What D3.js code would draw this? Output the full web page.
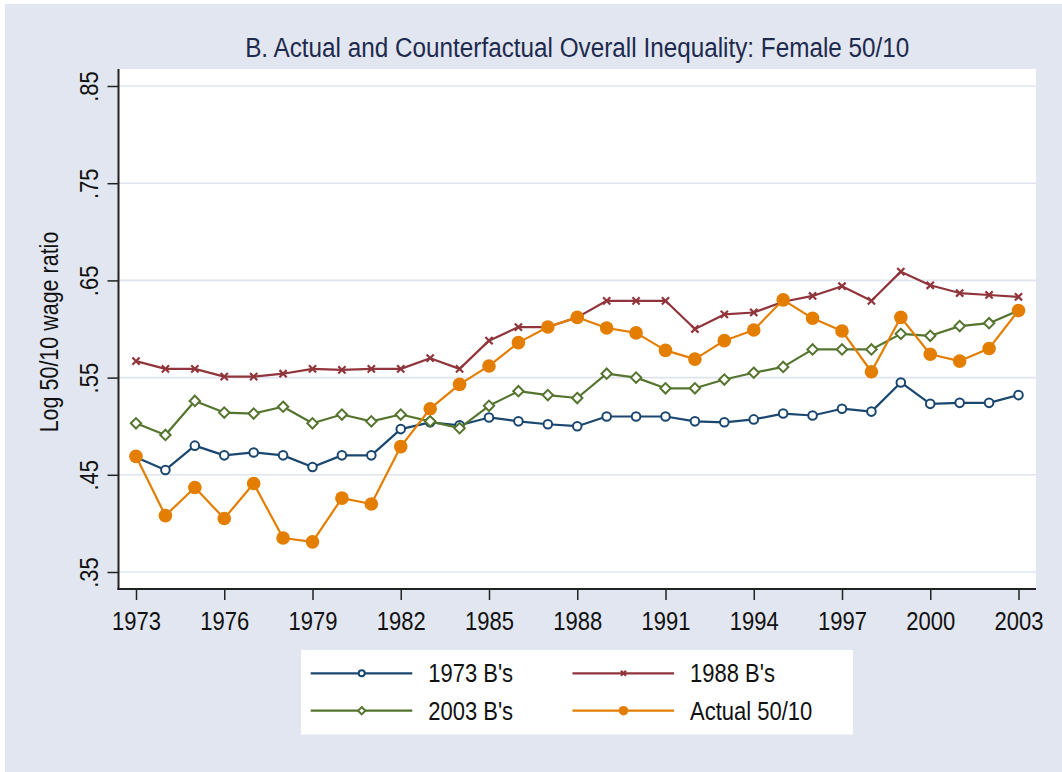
<!DOCTYPE html>
<html>
<head>
<meta charset="utf-8">
<script src="https://cdn.jsdelivr.net/npm/d3@7"></script>
<style>
  body { margin: 0; background: white; }
  text { font-family: "Liberation Sans Narrow", "Arial Narrow", "Liberation Sans", sans-serif; }
</style>
</head>
<body>
<div id="canvas"></div>
<script>
"use strict"

/* Data */
let years = d3.range(1973, 2004);

let b1973 = [0.468, 0.455, 0.480, 0.470, 0.473, 0.470, 0.458, 0.470, 0.470, 0.497,
    0.504, 0.501, 0.509, 0.505, 0.502, 0.500, 0.510, 0.510, 0.510, 0.505,
    0.504, 0.507, 0.513, 0.511, 0.518, 0.515, 0.545, 0.523, 0.524, 0.524, 0.532];

let b1988 = [0.567, 0.559, 0.559, 0.551, 0.551, 0.554, 0.559, 0.558, 0.559, 0.559,
    0.570, 0.559, 0.588, 0.602, 0.602, 0.612, 0.629, 0.629, 0.629, 0.600,
    0.615, 0.617, 0.628, 0.634, 0.644, 0.629, 0.659, 0.645, 0.637, 0.635, 0.633];

let b2003 = [0.503, 0.491, 0.526, 0.514, 0.513, 0.520, 0.503, 0.512, 0.505, 0.512,
    0.505, 0.498, 0.521, 0.536, 0.532, 0.529, 0.554, 0.550, 0.539, 0.539,
    0.548, 0.555, 0.561, 0.579, 0.579, 0.579, 0.595, 0.593, 0.603, 0.606, 0.619];

let actual = [0.469, 0.408, 0.437, 0.405, 0.441, 0.385, 0.381, 0.426, 0.420, 0.479,
    0.518, 0.543, 0.562, 0.586, 0.602, 0.612, 0.601, 0.596, 0.578, 0.569,
    0.588, 0.599, 0.630, 0.611, 0.598, 0.556, 0.612, 0.574, 0.567, 0.580, 0.619];

let yTicks = [0.35, 0.45, 0.55, 0.65, 0.75, 0.85];
let xTicks = [1973, 1976, 1979, 1982, 1985, 1988, 1991, 1994, 1997, 2000, 2003];

let seriesNames = ["1973 B's", "1988 B's", "2003 B's", "Actual 50/10"];
let seriesColors = ["#1a476f", "#90353b", "#55752f", "#e37e00"];
let seriesMarkers = ["circle", "cross", "diamond", "dot"];
let seriesValues = [b1973, b1988, b2003, actual];

let drawingWidth = 1062;
let drawingHeight = 772;

let bgColor = "#e1e6f0";

/* the font is not narrow here, so squeeze text sideways */
let narrow = 0.88;

let plotLeft = 118.5, plotRight = 1036, plotTop = 69, plotBottom = 589;

let drawing = d3.select("#canvas")
    .append("svg")
    .attr("width", drawingWidth)
    .attr("height", drawingHeight);

/* outer graph region */
drawing.append("rect")
    .attr("x", 5).attr("y", 4)
    .attr("width", drawingWidth - 5)
    .attr("height", drawingHeight - 4)
    .attr("fill", bgColor);

/* plot region */
drawing.append("rect")
    .attr("x", plotLeft).attr("y", plotTop)
    .attr("width", plotRight - plotLeft)
    .attr("height", plotBottom - plotTop)
    .attr("fill", "white");

let x = d3.scaleLinear().domain([1973, 2003]).range([136, 1018.5]);
let y = d3.scaleLinear().domain([0.35, 0.85]).range([572, 86]);

/* gridlines */
drawing.append("g")
    .selectAll("line")
    .data(yTicks)
    .join("line")
    .attr("x1", plotLeft)
    .attr("x2", plotRight)
    .attr("y1", d => y(d))
    .attr("y2", d => y(d))
    .attr("stroke", "#dfe4ef")
    .attr("stroke-width", 1.6);

/* y axis */
let yAxis = drawing.append("g")
    .attr("transform", `translate(${plotLeft},0)`)
    .call(d3.axisLeft(y).tickValues(yTicks).tickSize(11).tickFormat(d => d3.format(".2f")(d).replace(/^0/, "")));

yAxis.select(".domain").remove();
yAxis.selectAll(".tick line").attr("stroke", "#222").attr("stroke-width", 1.5);
yAxis.selectAll(".tick text")
    .attr("transform", `translate(-21,0) rotate(-90) scale(${narrow},1)`)
    .attr("x", 0)
    .attr("y", 0)
    .attr("dy", 0)
    .attr("text-anchor", "middle")
    .attr("font-size", 25)
    .attr("fill", "#111");

/* x axis */
let xAxis = drawing.append("g")
    .attr("transform", `translate(0,${plotBottom})`)
    .call(d3.axisBottom(x).tickValues(xTicks).tickSize(11).tickFormat(d3.format("d")));

xAxis.select(".domain").remove();
xAxis.selectAll(".tick line").attr("stroke", "#222").attr("stroke-width", 1.5);
xAxis.selectAll(".tick text")
    .attr("transform", `scale(${narrow},1)`)
    .attr("y", 41)
    .attr("dy", 0)
    .attr("font-size", 25)
    .attr("fill", "#111");

/* axis lines */
drawing.append("line")
    .attr("x1", plotLeft).attr("x2", plotLeft)
    .attr("y1", plotTop).attr("y2", plotBottom + 1)
    .attr("stroke", "#222").attr("stroke-width", 2);

drawing.append("line")
    .attr("x1", plotLeft - 1).attr("x2", plotRight)
    .attr("y1", plotBottom).attr("y2", plotBottom)
    .attr("stroke", "#222").attr("stroke-width", 2);

/* draw one marker of a given kind */
function drawMarker(g, kind, cx, cy, color, scale) {
    if (kind == "circle") {
        g.append("circle")
            .attr("cx", cx).attr("cy", cy)
            .attr("r", 4.3 * scale)
            .attr("fill", "white")
            .attr("stroke", color)
            .attr("stroke-width", 2);
    } else if (kind == "diamond") {
        let s = 5.2 * scale;
        g.append("path")
            .attr("d", `M${cx},${cy - s}L${cx + s},${cy}L${cx},${cy + s}L${cx - s},${cy}Z`)
            .attr("fill", "white")
            .attr("stroke", color)
            .attr("stroke-width", 2);
    } else if (kind == "cross") {
        let s = 3.6 * scale;
        g.append("path")
            .attr("d", `M${cx - s},${cy - s}L${cx + s},${cy + s}M${cx - s},${cy + s}L${cx + s},${cy - s}`)
            .attr("stroke", color)
            .attr("stroke-width", 2.2);
    } else {
        g.append("circle")
            .attr("cx", cx).attr("cy", cy)
            .attr("r", 6.8 * scale)
            .attr("fill", color);
    }
}

/* text placed at (tx,ty), squeezed sideways */
function addText(g, tx, ty, size, color, anchor, str) {
    return g.append("text")
        .attr("transform", `translate(${tx},${ty}) scale(${narrow},1)`)
        .attr("text-anchor", anchor)
        .attr("font-size", size)
        .attr("fill", color)
        .text(str);
}

/* series */
let line = d3.line()
    .x((d, i) => x(years[i]))
    .y(d => y(d));

seriesValues.forEach((values, k) => {
    let g = drawing.append("g");
    g.append("path")
        .attr("d", line(values))
        .attr("fill", "none")
        .attr("stroke", seriesColors[k])
        .attr("stroke-width", 2.2)
        .attr("stroke-linejoin", "round");
    values.forEach((v, i) => drawMarker(g, seriesMarkers[k], x(years[i]), y(v), seriesColors[k], 1));
});

/* title */
drawing.append("text")
    .attr("transform", `translate(${(plotLeft + plotRight) / 2},57) scale(0.9,1)`)
    .attr("text-anchor", "middle")
    .attr("font-size", 27)
    .attr("fill", "#1e2a4e")
    .text("B. Actual and Counterfactual Overall Inequality: Female 50/10");

/* y title */
drawing.append("text")
    .attr("transform", `translate(58,${(plotTop + plotBottom) / 2 + 3}) rotate(-90) scale(0.86,1)`)
    .attr("text-anchor", "middle")
    .attr("font-size", 25)
    .attr("fill", "#111")
    .text("Log 50/10 wage ratio");

/* legend */
let legend = drawing.append("g");

legend.append("rect")
    .attr("x", 301).attr("y", 650)
    .attr("width", 552).attr("height", 84.5)
    .attr("fill", "white");

let legendCols = [310.7, 572.5];
let legendRows = [673.3, 710.7];

seriesNames.forEach((name, k) => {
    let lx = legendCols[k % 2];
    let ly = legendRows[Math.floor(k / 2)];
    legend.append("line")
        .attr("x1", lx).attr("x2", lx + 101.6)
        .attr("y1", ly).attr("y2", ly)
        .attr("stroke", seriesColors[k])
        .attr("stroke-width", 2.2);
    drawMarker(legend, seriesMarkers[k], lx + 51, ly, seriesColors[k], 0.7);
    addText(legend, lx + 117.5, ly + 9, 25, "#111", "start", name);
});
</script>
</body>
</html>
